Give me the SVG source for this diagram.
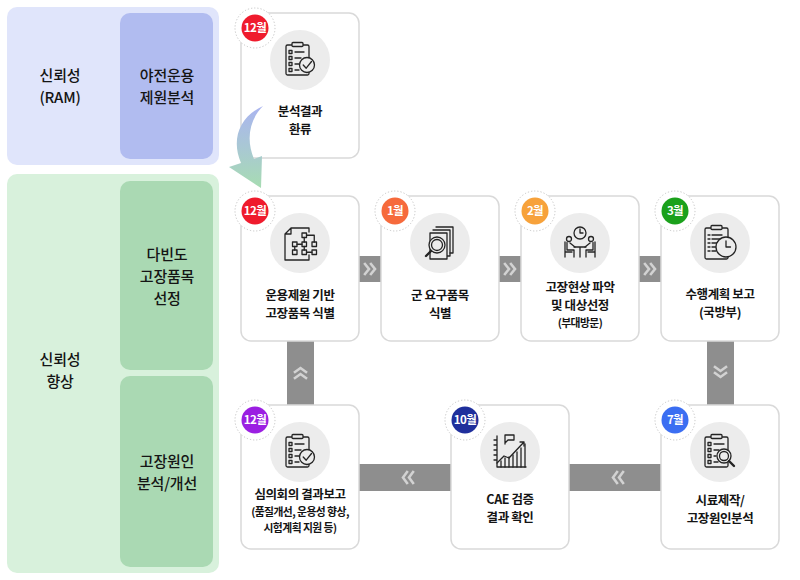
<svg xmlns="http://www.w3.org/2000/svg" width="800" height="580" viewBox="0 0 800 580">
<defs>
<style>
.panelT{font-family:"Noto Sans CJK KR","Noto Sans",sans-serif;font-size:15px;font-weight:500;fill:#151515;text-anchor:middle;letter-spacing:-0.2px}
.card{fill:#ffffff;stroke:#d9d9d9;stroke-width:1.5}
.lbl{font-family:"Noto Sans CJK KR","Noto Sans",sans-serif;font-size:12.5px;font-weight:700;fill:#141414;text-anchor:middle;letter-spacing:-0.4px}
.sub{font-family:"Noto Sans CJK KR","Noto Sans",sans-serif;font-size:10.8px;font-weight:700;fill:#141414;text-anchor:middle;letter-spacing:-0.55px}
.bdgT{font-family:"Noto Sans CJK KR","Noto Sans",sans-serif;font-size:11.5px;font-weight:700;fill:#ffffff;text-anchor:middle;letter-spacing:-0.6px}
.ring{fill:#ffffff;stroke:#c4c4c4;stroke-width:1;stroke-dasharray:1.2 2}
.icbg{fill:#ececec}
.ic{fill:none;stroke:#242424;stroke-width:1.3;stroke-linecap:round;stroke-linejoin:round}
.bar{fill:#8e8e8e}
.chev{fill:none;stroke:#d2d2d2;stroke-width:2.6;stroke-linecap:square;stroke-linejoin:miter}
</style>
<linearGradient id="flowGrad" x1="0" y1="0" x2="0" y2="1">
<stop offset="0" stop-color="#aab4f0"/>
<stop offset="0.5" stop-color="#a9c8d4"/>
<stop offset="1" stop-color="#a7dcb2"/>
</linearGradient>
<g id="ic-check" class="ic">
<rect x="-14" y="-15" width="23" height="30" rx="1.5"/>
<rect x="-8" y="-17.5" width="11" height="4" rx="1" fill="#ececec"/>
<rect x="-11" y="-9.5" width="3" height="3"/>
<rect x="-11" y="-3.5" width="3" height="3"/>
<rect x="-11" y="2.5" width="3" height="3"/>
<rect x="-11" y="8.5" width="3" height="3"/>
<path d="M-5,-8H4 M-5,-2H1 M-5,4H-1 M-5,10H-1"/>
<circle cx="7" cy="5" r="7.5" fill="#ececec"/>
<path d="M3.2,5 L6.2,8.2 L11.5,1.5"/>
</g>
</defs>

<g id="panel-ram">
<rect x="7" y="7" width="212" height="158" rx="10" fill="#e0e5fb"/>
<rect x="120" y="13" width="93" height="146" rx="10" fill="#b1bcf0"/>
<text class="panelT" x="60" y="81">신뢰성</text>
<text class="panelT" x="60" y="103">(RAM)</text>
<text class="panelT" x="167" y="81">야전운용</text>
<text class="panelT" x="167" y="103">제원분석</text>
</g>

<g id="panel-improve">
<rect x="7" y="174" width="212" height="399" rx="10" fill="#d8f1dc"/>
<rect x="120" y="181" width="93" height="189" rx="10" fill="#aad9b3"/>
<rect x="120" y="376" width="93" height="191" rx="10" fill="#aad9b3"/>
<text class="panelT" x="60" y="365">신뢰성</text>
<text class="panelT" x="60" y="387">향상</text>
<text class="panelT" x="167" y="260">다빈도</text>
<text class="panelT" x="167" y="282">고장품목</text>
<text class="panelT" x="167" y="304">선정</text>
<text class="panelT" x="167" y="467">고장원인</text>
<text class="panelT" x="167" y="489">분석/개선</text>
</g>

<g id="connectors">
<rect class="bar" x="359" y="256" width="22" height="26"/>
<path class="chev" d="M365,264 L369,269 L365,274 M371,264 L375,269 L371,274"/>
<rect class="bar" x="499" y="256" width="22" height="26"/>
<path class="chev" d="M505,264 L509,269 L505,274 M511,264 L515,269 L511,274"/>
<rect class="bar" x="639" y="256" width="22" height="26"/>
<path class="chev" d="M645,264 L649,269 L645,274 M651,264 L655,269 L651,274"/>
<rect class="bar" x="707" y="341" width="27" height="64"/>
<path class="chev" d="M715,367 L720.5,371 L726,367 M715,373 L720.5,377 L726,373"/>
<rect class="bar" x="569" y="464" width="92" height="27"/>
<path class="chev" d="M617,472 L613,477.5 L617,483 M623,472 L619,477.5 L623,483"/>
<rect class="bar" x="359" y="464" width="92" height="27"/>
<path class="chev" d="M407,472 L403,477.5 L407,483 M413,472 L409,477.5 L413,483"/>
<rect class="bar" x="287" y="341" width="27" height="64"/>
<path class="chev" d="M295,372 L300.5,368 L306,372 M295,378 L300.5,374 L306,378"/>
</g>

<g id="node-feedback">
<rect class="card" x="241" y="13" width="118" height="145" rx="10"/>
<circle class="icbg" cx="300" cy="60" r="30"/>
<use href="#ic-check" transform="translate(300,60)"/>
<text class="lbl" x="300" y="116">분석결과</text>
<text class="lbl" x="300" y="134">환류</text>
<circle class="ring" cx="255" cy="28" r="20"/>
<circle cx="255" cy="28" r="13.5" fill="#ef1b2d"/>
<text class="bdgT" x="255" y="32">12월</text>
</g>

<g id="flow-arrow">
<path d="M263,106 C239,117 231,140 241,163 L229,167 L261,188 L262,156 L254,159 C246,140 249,120 263,106 Z" fill="url(#flowGrad)"/>
</g>

<g id="node-identify">
<rect class="card" x="241" y="196" width="118" height="145" rx="10"/>
<circle class="icbg" cx="300" cy="243" r="30"/>
<g class="ic" transform="translate(300,243)">
<path d="M-9,-15 H9 V-11 M9,12 V17 H-15 V-9 L-9,-15 V-9 H-15"/>
<rect x="2" y="-10" width="4.5" height="4.5"/>
<rect x="-7.5" y="-1" width="4.5" height="4.5"/>
<rect x="2" y="-1" width="4.5" height="4.5"/>
<rect x="12" y="-1" width="4.5" height="4.5"/>
<rect x="-7.5" y="7" width="4.5" height="4.5"/>
<rect x="2" y="7" width="4.5" height="4.5"/>
<rect x="12" y="7" width="4.5" height="4.5"/>
<path d="M6.5,-7.75 H14.25 V-1 M4.25,-5.5 V-1 M-3,1.25 H2 M-5.25,3.5 V7 M4.25,3.5 V7 M6.5,9.25 H12"/>
</g>
<text class="lbl" x="300" y="300">운용제원 기반</text>
<text class="lbl" x="300" y="318">고장품목 식별</text>
<circle class="ring" cx="255" cy="211" r="20"/>
<circle cx="255" cy="211" r="13.5" fill="#ef1b2d"/>
<text class="bdgT" x="255" y="215">12월</text>
</g>

<g id="node-demand">
<rect class="card" x="381" y="196" width="118" height="145" rx="10"/>
<circle class="icbg" cx="440" cy="243" r="30"/>
<g class="ic" transform="translate(440,243)">
<path d="M-4,-16 H13 V10 H10"/>
<path d="M-7,-13 H10 V13 H7"/>
<rect x="-10" y="-10" width="17" height="26" fill="#ececec"/>
<circle cx="-3" cy="2" r="8" fill="#ececec"/>
<circle cx="-3" cy="2" r="5.5"/>
<path d="M-9,8 L-14,13" stroke-width="2.4"/>
</g>
<text class="lbl" x="440" y="300">군 요구품목</text>
<text class="lbl" x="440" y="318">식별</text>
<circle class="ring" cx="395" cy="211" r="20"/>
<circle cx="395" cy="211" r="13.5" fill="#f66a3c"/>
<text class="bdgT" x="395" y="215">1월</text>
</g>

<g id="node-field">
<rect class="card" x="521" y="196" width="118" height="145" rx="10"/>
<circle class="icbg" cx="580" cy="243" r="30"/>
<g class="ic" transform="translate(580,243)">
<circle cx="0" cy="-10" r="6"/>
<path d="M0,-14 V-10 H3"/>
<circle cx="-11" cy="-4" r="2.5"/>
<circle cx="11" cy="-4" r="2.5"/>
<path d="M-13,-0.5 V7 H-6 V14 M-10,0 L-5,4 M-15,-1 V14 M-15,9 H-8"/>
<path d="M13,-0.5 V7 H6 V14 M10,0 L5,4 M15,-1 V14 M15,9 H8"/>
<path d="M-6,4 H6 M0,4 V14"/>
</g>
<text class="lbl" x="580" y="292">고장현상 파악</text>
<text class="lbl" x="580" y="310">및 대상선정</text>
<text class="sub" x="580" y="327">(부대방문)</text>
<circle class="ring" cx="535" cy="211" r="20"/>
<circle cx="535" cy="211" r="13.5" fill="#f7a23b"/>
<text class="bdgT" x="535" y="215">2월</text>
</g>

<g id="node-plan">
<rect class="card" x="661" y="196" width="118" height="145" rx="10"/>
<circle class="icbg" cx="720" cy="243" r="30"/>
<g class="ic" transform="translate(720,243)">
<rect x="-15" y="-15" width="23" height="31" rx="1.5"/>
<rect x="-9" y="-17.5" width="11" height="4" rx="1" fill="#ececec"/>
<path d="M-12,-8H-10 M-8,-8H2 M-12,-4H-10 M-8,-4H0 M-12,0H-10 M-8,0H-2 M-12,4H-10 M-8,4H-4 M-12,8H-10 M-8,8H-4"/>
<circle cx="6" cy="4" r="10" fill="#ececec"/>
<path d="M6,-2 V4 H10.5"/>
</g>
<text class="lbl" x="720" y="299">수행계획 보고</text>
<text class="lbl" x="720" y="317">(국방부)</text>
<circle class="ring" cx="675" cy="211" r="20"/>
<circle cx="675" cy="211" r="13.5" fill="#1ba11c"/>
<text class="bdgT" x="675" y="215">3월</text>
</g>

<g id="node-sample">
<rect class="card" x="661" y="405" width="118" height="144" rx="10"/>
<circle class="icbg" cx="720" cy="452" r="30"/>
<g class="ic" transform="translate(720,452)">
<rect x="-15" y="-15" width="23" height="30" rx="1.5"/>
<rect x="-9" y="-17.5" width="11" height="4" rx="1" fill="#ececec"/>
<rect x="-12" y="-9.5" width="3" height="3"/>
<rect x="-12" y="-3.5" width="3" height="3"/>
<rect x="-12" y="2.5" width="3" height="3"/>
<rect x="-12" y="8.5" width="3" height="3"/>
<path d="M-6,-8H4 M-6,-2H-1 M-6,4H-4 M-6,10H-2"/>
<circle cx="4" cy="4" r="7" fill="#ececec"/>
<circle cx="4" cy="4" r="4.5"/>
<path d="M9,9 L14,14" stroke-width="2.4"/>
</g>
<text class="lbl" x="720" y="505">시료제작/</text>
<text class="lbl" x="720" y="523">고장원인분석</text>
<circle class="ring" cx="675" cy="420" r="20"/>
<circle cx="675" cy="420" r="13.5" fill="#3b6ef2"/>
<text class="bdgT" x="675" y="424">7월</text>
</g>

<g id="node-cae">
<rect class="card" x="451" y="405" width="118" height="144" rx="10"/>
<circle class="icbg" cx="510" cy="452" r="30"/>
<g class="ic" transform="translate(510,452)">
<path d="M-13,-16 V15 H16 M-16,-12H-13 M-16,-7H-13 M-16,-2H-13 M-16,3H-13 M-16,8H-13"/>
<path d="M-9,15 V9 M-5,15 V6 M-1,15 V5 M3,15 V3 M7,15 V0 M11,15 V-4 M15,15 V-8"/>
<path d="M-13,11 L-6,4 L-1,6 L14,-10 M10,-10 H14 V-6"/>
<path d="M-5,-8 V-17 H4 V-12 H-2 L-5,-9"/>
</g>
<text class="lbl" x="510" y="504">CAE 검증</text>
<text class="lbl" x="510" y="522">결과 확인</text>
<circle class="ring" cx="465" cy="420" r="20"/>
<circle cx="465" cy="420" r="13.5" fill="#1f2f9c"/>
<text class="bdgT" x="465" y="424">10월</text>
</g>

<g id="node-review">
<rect class="card" x="241" y="405" width="118" height="144" rx="10"/>
<circle class="icbg" cx="300" cy="452" r="30"/>
<use href="#ic-check" transform="translate(300,452)"/>
<text class="lbl" x="300" y="499">심의회의 결과보고</text>
<text class="sub" x="300" y="516">(품질개선, 운용성 향상,</text>
<text class="sub" x="300" y="532">시험계획 지원 등)</text>
<circle class="ring" cx="255" cy="420" r="20"/>
<circle cx="255" cy="420" r="13.5" fill="#9b1fe2"/>
<text class="bdgT" x="255" y="424">12월</text>
</g>
</svg>
